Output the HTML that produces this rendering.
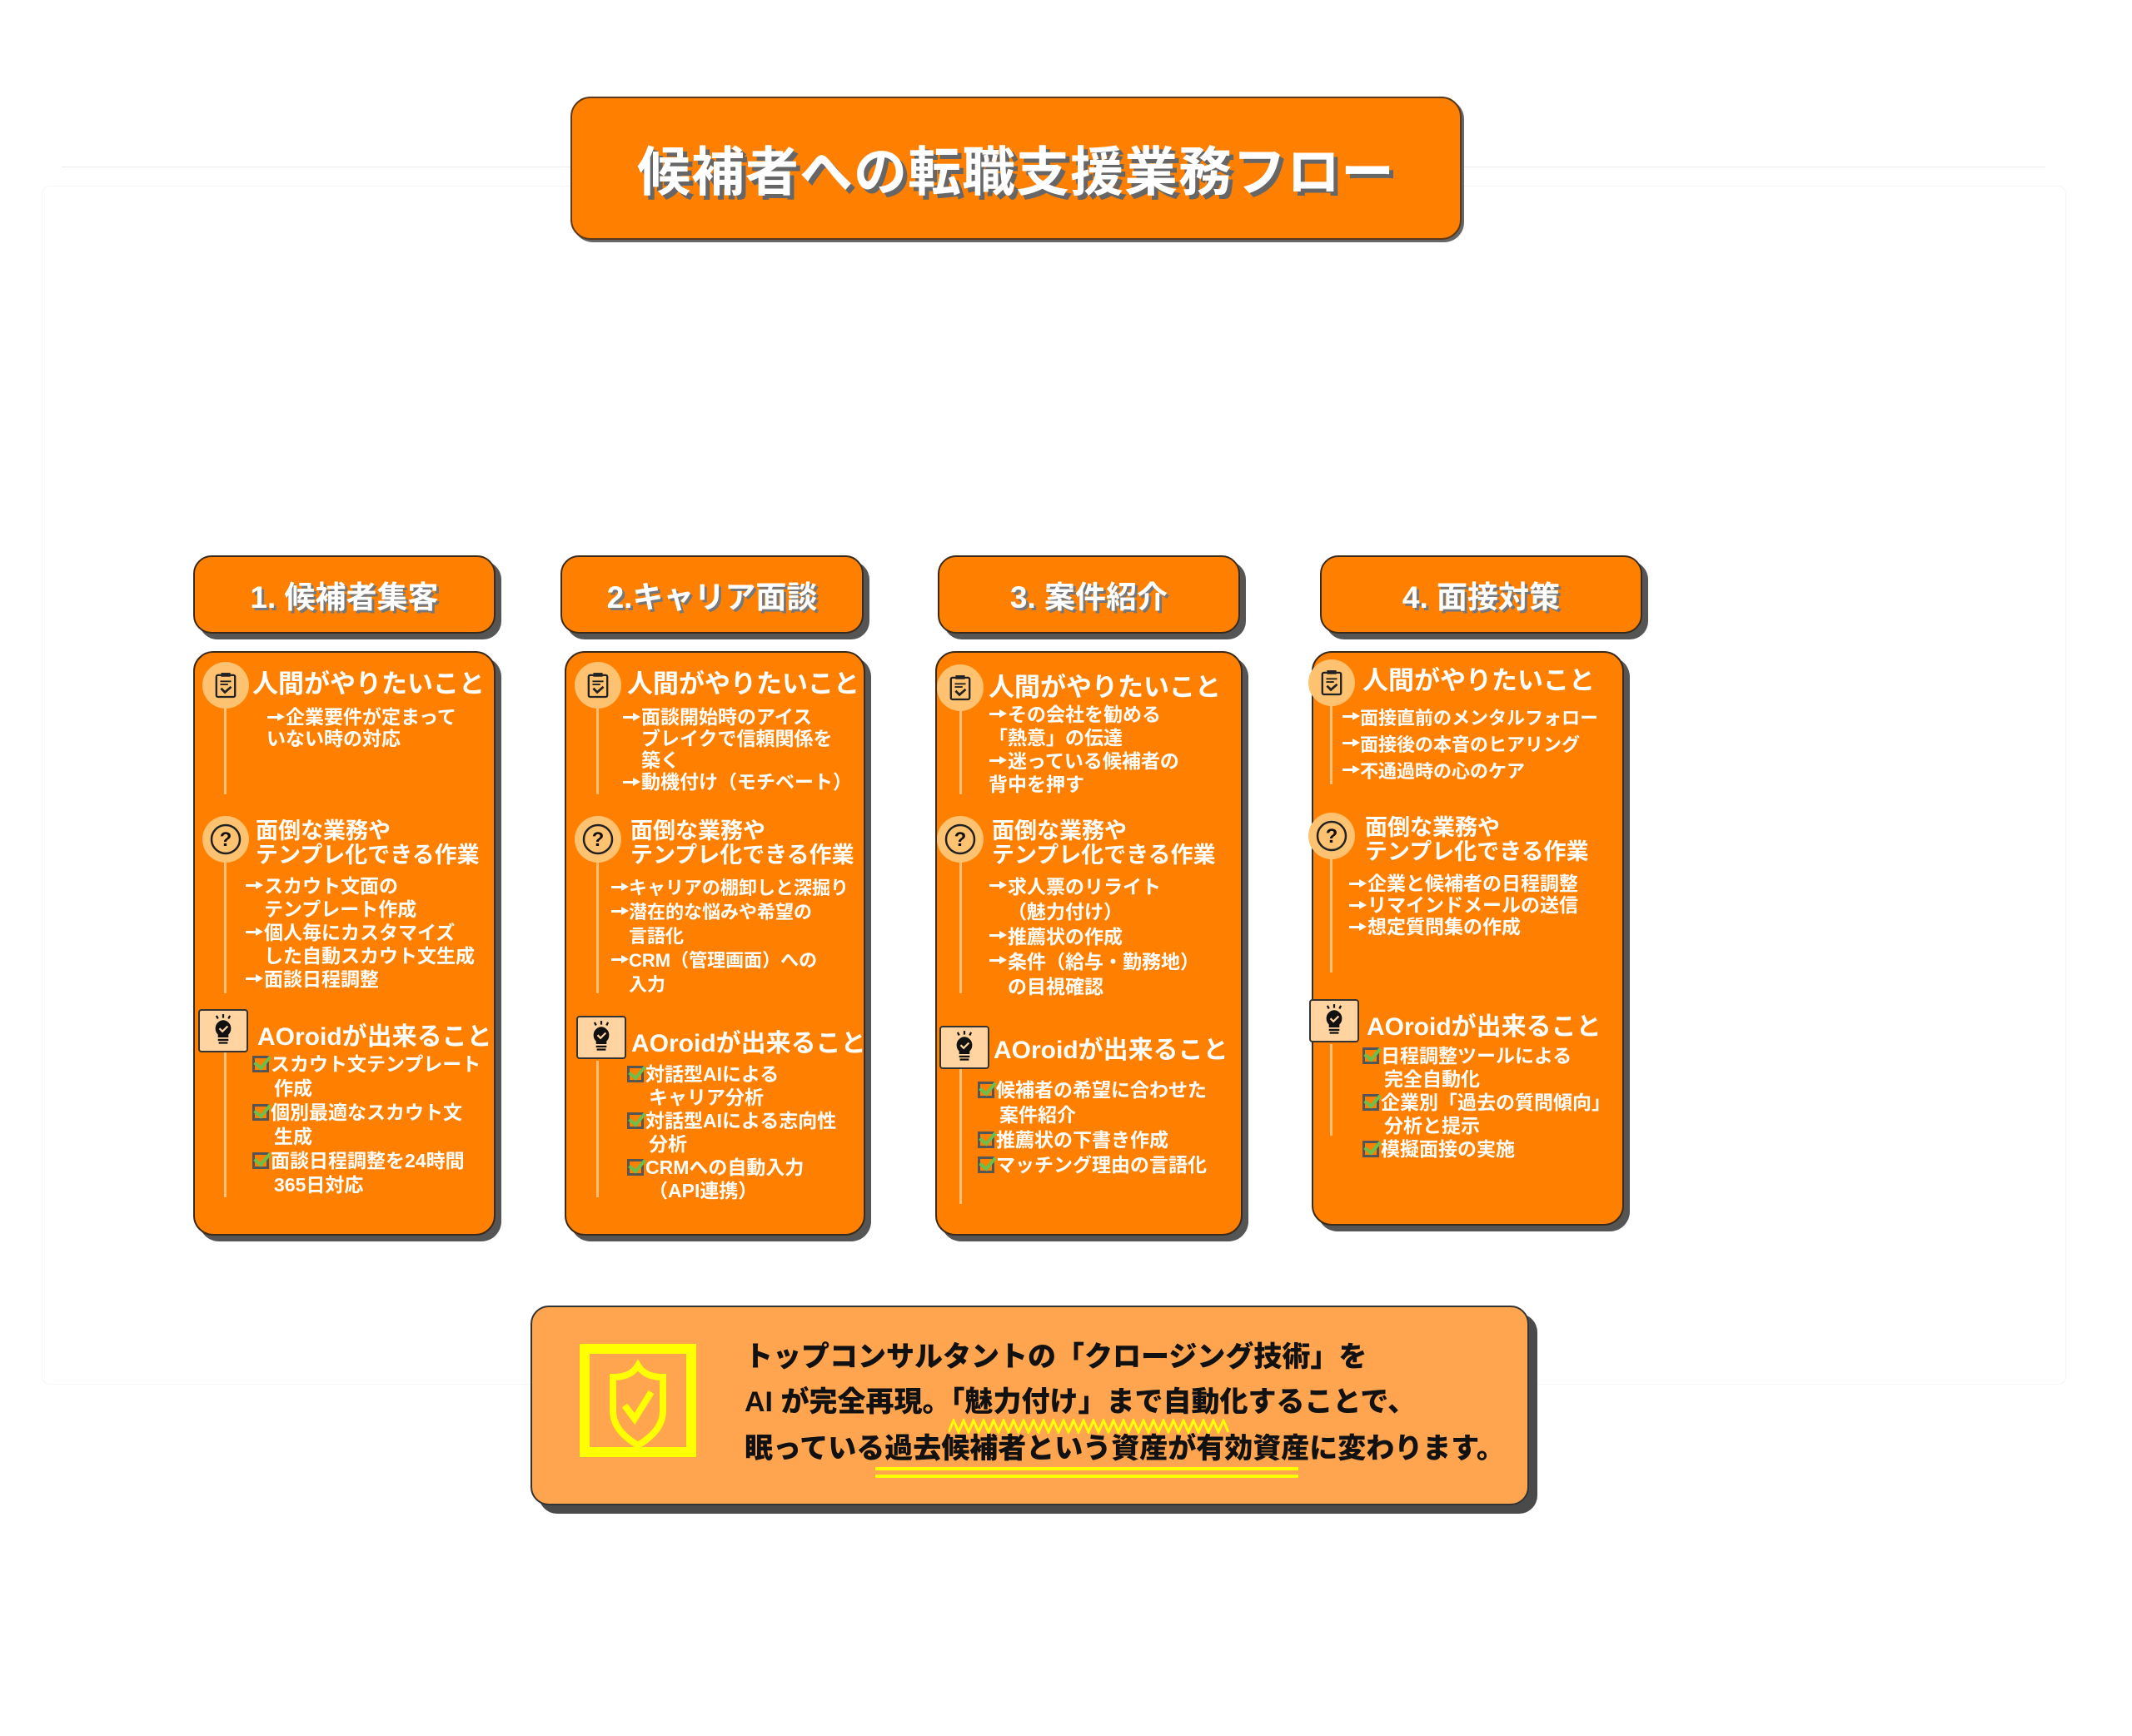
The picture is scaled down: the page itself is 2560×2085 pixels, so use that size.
<!DOCTYPE html>
<html><head><meta charset="utf-8">
<style>
*{margin:0;padding:0;box-sizing:border-box}
body{width:2560px;height:2085px;background:#fff;position:relative;overflow:hidden;font-family:"Liberation Sans","Noto Sans CJK JP",sans-serif;font-weight:bold;color:#fff}
.abs{position:absolute}
.title{left:685px;top:116px;width:1070px;height:172px;background:#FF8000;border:2px solid #5a3a1a;border-radius:24px;box-shadow:3px 3px 0 #666;display:flex;align-items:center;justify-content:center;font-size:64px;letter-spacing:1px;text-shadow:5px 5px 0 #666}
.hdr{position:absolute;top:667px;height:94px;background:#FF8000;border:2px solid #3a2a1a;border-radius:22px;box-shadow:7px 7px 0 #555;display:flex;align-items:center;justify-content:center;font-size:37px;text-shadow:3px 3px 0 #777}
.card{position:absolute;top:782px;background:#FF8000;border:2px solid #3a2a1a;border-radius:24px;box-shadow:7px 7px 0 #555}
.card>div{position:absolute;white-space:nowrap}
.h1{font-size:31px;line-height:36px}
.h2{font-size:27px;line-height:29px}
.it{font-size:23px;line-height:28px}
.in{padding-left:1em}
.ar{display:inline-block;width:1em;height:1em;position:relative;color:transparent;vertical-align:-3px;overflow:visible}
.ar:before{content:"";position:absolute;left:1px;top:9px;width:15px;height:3px;background:#fff}
.ar:after{content:"";position:absolute;left:13px;top:5px;border-left:9px solid #fff;border-top:5px solid transparent;border-bottom:5px solid transparent}
.vl{width:3px;background:#FFC07A}
.circ{width:56px;height:56px;border-radius:50%;background:#FFC270}
.bulb{width:60px;height:52px;background:#FFD4A0;border:2px solid #333;border-radius:4px}
.ck{display:inline-block;width:20px;height:20px;border:3px solid #555;position:relative;vertical-align:-2px;margin-right:2px}
.ck:after{content:"";position:absolute;left:3px;top:-6px;width:8px;height:15px;border-right:4px solid #6BC04A;border-bottom:4px solid #6BC04A;transform:rotate(40deg)}
.bot{left:637px;top:1568px;width:1199px;height:240px;background:#FFA54F;border:2px solid #333;border-radius:22px;box-shadow:10px 10px 0 #4a4a4a}
.bt{position:absolute;left:255px;color:#111;font-size:34px;line-height:40px;white-space:nowrap;font-weight:900}
</style></head><body>
<div class="abs" style="left:74px;top:200px;width:2382px;height:1px;background:#eee"></div>
<div class="abs" style="left:50px;top:223px;width:2431px;height:1440px;border:1px solid #f5f5f5;border-radius:10px"></div>

<div class="abs title">候補者への転職支援業務フロー</div>

<div class="hdr" style="left:232px;width:363px">1. 候補者集客</div>
<div class="hdr" style="left:673px;width:364px">2.キャリア面談</div>
<div class="hdr" style="left:1126px;width:363px">3. 案件紹介</div>
<div class="hdr" style="left:1585px;width:387px">4. 面接対策</div>

<svg width="0" height="0" style="position:absolute">
<defs>
<symbol id="clip" viewBox="0 0 30 34"><rect x="3" y="4" width="24" height="28" rx="2" fill="none" stroke="#222" stroke-width="2.5"/><rect x="9" y="1" width="12" height="5" fill="#222"/><line x1="8" y1="12" x2="22" y2="12" stroke="#222" stroke-width="2"/><line x1="8" y1="16" x2="18" y2="16" stroke="#222" stroke-width="2"/><path d="M9 21 L14 26 L22 19" fill="none" stroke="#222" stroke-width="3"/></symbol>
<symbol id="q" viewBox="0 0 40 40"><circle cx="20" cy="20" r="17" fill="none" stroke="#222" stroke-width="2.5"/><text x="20" y="28" text-anchor="middle" font-size="24" font-weight="bold" fill="#111" font-family="Liberation Sans">?</text></symbol>
<symbol id="bl" viewBox="0 0 40 44"><path d="M20 9 a11 11 0 0 1 7 19 v4 h-14 v-4 a11 11 0 0 1 7 -19z" fill="#111"/><rect x="13" y="34" width="14" height="2.5" fill="#111"/><rect x="14" y="38" width="12" height="2.5" fill="#111"/><path d="M15 20 l4 4 l7-7" fill="none" stroke="#FFD4A0" stroke-width="2.5"/><line x1="20" y1="1" x2="20" y2="6" stroke="#111" stroke-width="2.5"/><line x1="11" y1="3" x2="13" y2="7" stroke="#111" stroke-width="2.5"/><line x1="29" y1="3" x2="27" y2="7" stroke="#111" stroke-width="2.5"/></symbol>
</defs></svg>

<!-- Card 1 -->
<div class="card" style="left:232px;width:363px;height:702px">
 <div class="vl" style="left:35px;top:66px;height:104px"></div>
 <div class="vl" style="left:35px;top:252px;height:157px"></div>
 <div class="vl" style="left:35px;top:480px;height:174px"></div>
 <div class="circ" style="left:9px;top:11px"><svg width="56" height="56"><use href="#clip" x="14" y="12" width="28" height="32"/></svg></div>
 <div class="h1" style="left:69px;top:20px">人間がやりたいこと</div>
 <div class="it" style="left:86px;top:64px;line-height:26px"><span class="ar">→</span>企業要件が定まって<br>いない時の対応</div>
 <div class="circ" style="left:9px;top:196px"><svg width="56" height="56"><use href="#q" x="8" y="8" width="40" height="40"/></svg></div>
 <div class="h2" style="left:73px;top:200px">面倒な業務や<br>テンプレ化できる作業</div>
 <div class="it" style="left:60px;top:266px"><span class="ar">→</span>スカウト文面の<br><span class="in">テンプレート作成</span><br><span class="ar">→</span>個人毎にカスタマイズ<br><span class="in">した自動スカウト文生成</span><br><span class="ar">→</span>面談日程調整</div>
 <div class="bulb" style="left:4px;top:428px"><svg width="56" height="48"><use href="#bl" x="10" y="2" width="36" height="42"/></svg></div>
 <div class="h1" style="left:75px;top:444px;font-size:30px">AOroidが出来ること</div>
 <div class="it" style="left:69px;top:480px;line-height:29px"><span class="ck"></span>スカウト文テンプレート<br><span style="padding-left:26px">作成</span><br><span class="ck"></span>個別最適なスカウト文<br><span style="padding-left:26px">生成</span><br><span class="ck"></span>面談日程調整を24時間<br><span style="padding-left:26px">365日対応</span></div>
</div>

<!-- Card 2 -->
<div class="card" style="left:678px;width:361px;height:702px">
 <div class="vl" style="left:36px;top:66px;height:104px"></div>
 <div class="vl" style="left:36px;top:252px;height:157px"></div>
 <div class="vl" style="left:36px;top:490px;height:164px"></div>
 <div class="circ" style="left:10px;top:11px"><svg width="56" height="56"><use href="#clip" x="14" y="12" width="28" height="32"/></svg></div>
 <div class="h1" style="left:73px;top:20px">人間がやりたいこと</div>
 <div class="it" style="left:67px;top:64px;line-height:26px"><span class="ar">→</span>面談開始時のアイス<br><span class="in">ブレイクで信頼関係を</span><br><span class="in">築く</span><br><span class="ar">→</span>動機付け（モチベート）</div>
 <div class="circ" style="left:10px;top:196px"><svg width="56" height="56"><use href="#q" x="8" y="8" width="40" height="40"/></svg></div>
 <div class="h2" style="left:77px;top:200px">面倒な業務や<br>テンプレ化できる作業</div>
 <div class="it" style="left:53px;top:268px;line-height:29px;font-size:22px"><span class="ar">→</span>キャリアの棚卸しと深掘り<br><span class="ar">→</span>潜在的な悩みや希望の<br><span class="in">言語化</span><br><span class="ar">→</span>CRM（管理画面）への<br><span class="in">入力</span></div>
 <div class="bulb" style="left:12px;top:436px"><svg width="56" height="48"><use href="#bl" x="10" y="2" width="36" height="42"/></svg></div>
 <div class="h1" style="left:78px;top:452px;font-size:30px">AOroidが出来ること</div>
 <div class="it" style="left:73px;top:492px;line-height:28px"><span class="ck"></span>対話型AIによる<br><span style="padding-left:26px">キャリア分析</span><br><span class="ck"></span>対話型AIによる志向性<br><span style="padding-left:26px">分析</span><br><span class="ck"></span>CRMへの自動入力<br><span style="padding-left:26px">（API連携）</span></div>
</div>

<!-- Card 3 -->
<div class="card" style="left:1123px;width:369px;height:702px">
 <div class="vl" style="left:27px;top:68px;height:102px"></div>
 <div class="vl" style="left:27px;top:252px;height:157px"></div>
 <div class="vl" style="left:27px;top:498px;height:164px"></div>
 <div class="circ" style="left:0px;top:14px"><svg width="56" height="56"><use href="#clip" x="14" y="12" width="28" height="32"/></svg></div>
 <div class="h1" style="left:62px;top:24px">人間がやりたいこと</div>
 <div class="it" style="left:62px;top:60px;line-height:28px"><span class="ar">→</span>その会社を勧める<br>「熱意」の伝達<br><span class="ar">→</span>迷っている候補者の<br>背中を押す</div>
 <div class="circ" style="left:0px;top:196px"><svg width="56" height="56"><use href="#q" x="8" y="8" width="40" height="40"/></svg></div>
 <div class="h2" style="left:66px;top:200px">面倒な業務や<br>テンプレ化できる作業</div>
 <div class="it" style="left:62px;top:266px;line-height:30px"><span class="ar">→</span>求人票のリライト<br><span class="in">（魅力付け）</span><br><span class="ar">→</span>推薦状の作成<br><span class="ar">→</span>条件（給与・勤務地）<br><span class="in">の目視確認</span></div>
 <div class="bulb" style="left:3px;top:448px"><svg width="56" height="48"><use href="#bl" x="10" y="2" width="36" height="42"/></svg></div>
 <div class="h1" style="left:68px;top:460px;font-size:30px">AOroidが出来ること</div>
 <div class="it" style="left:49px;top:510px;line-height:30px"><span class="ck"></span>候補者の希望に合わせた<br><span style="padding-left:26px">案件紹介</span><br><span class="ck"></span>推薦状の下書き作成<br><span class="ck"></span>マッチング理由の言語化</div>
</div>

<!-- Card 4 -->
<div class="card" style="left:1575px;width:375px;height:690px">
 <div class="vl" style="left:20px;top:60px;height:98px"></div>
 <div class="vl" style="left:20px;top:246px;height:138px"></div>
 <div class="vl" style="left:20px;top:470px;height:110px"></div>
 <div class="circ" style="left:-6px;top:8px"><svg width="56" height="56"><use href="#clip" x="14" y="12" width="28" height="32"/></svg></div>
 <div class="h1" style="left:59px;top:16px">人間がやりたいこと</div>
 <div class="it" style="left:34px;top:63px;line-height:32px;font-size:22px"><span class="ar">→</span>面接直前のメンタルフォロー<br><span class="ar">→</span>面接後の本音のヒアリング<br><span class="ar">→</span>不通過時の心のケア</div>
 <div class="circ" style="left:-6px;top:192px"><svg width="56" height="56"><use href="#q" x="8" y="8" width="40" height="40"/></svg></div>
 <div class="h2" style="left:62px;top:196px">面倒な業務や<br>テンプレ化できる作業</div>
 <div class="it" style="left:42px;top:264px;line-height:26px"><span class="ar">→</span>企業と候補者の日程調整<br><span class="ar">→</span>リマインドメールの送信<br><span class="ar">→</span>想定質問集の作成</div>
 <div class="bulb" style="left:-5px;top:416px"><svg width="56" height="48"><use href="#bl" x="10" y="2" width="36" height="42"/></svg></div>
 <div class="h1" style="left:64px;top:432px;font-size:30px">AOroidが出来ること</div>
 <div class="it" style="left:59px;top:470px;line-height:28px"><span class="ck"></span>日程調整ツールによる<br><span style="padding-left:26px">完全自動化</span><br><span class="ck"></span>企業別「過去の質問傾向」<br><span style="padding-left:26px">分析と提示</span><br><span class="ck"></span>模擬面接の実施</div>
</div>

<!-- Bottom -->
<div class="abs bot">
 <svg class="abs" style="left:57px;top:44px" width="140" height="136" viewBox="0 0 140 136">
  <rect x="6" y="6" width="128" height="124" fill="none" stroke="#FFFF00" stroke-width="12"/>
  <path d="M70 26 C76 36 86 40 100 40 V80 C100 100 86 112 70 122 C54 112 40 100 40 80 V40 C54 40 64 36 70 26Z" fill="none" stroke="#FFFF00" stroke-width="8"/>
  <path d="M54 74 L66 90 L86 58" fill="none" stroke="#FFFF00" stroke-width="8"/>
 </svg>
 <div class="bt" style="top:40px">トップコンサルタントの「クロージング技術」を</div>
 <div class="bt" style="top:94px">AI が完全再現。「魅力付け」まで自動化することで、</div>
 <div class="bt" style="top:150px">眠っている過去候補者という資産が有効資産に変わります。</div>
 <svg class="abs" style="left:500px;top:134px" width="345" height="18" viewBox="0 0 345 18"><path d="M0 16 L6 2 L12 16 L18 2 L24 16 L30 2 L36 16 L42 2 L48 16 L54 2 L60 16 L66 2 L72 16 L78 2 L84 16 L90 2 L96 16 L102 2 L108 16 L114 2 L120 16 L126 2 L132 16 L138 2 L144 16 L150 2 L156 16 L162 2 L168 16 L174 2 L180 16 L186 2 L192 16 L198 2 L204 16 L210 2 L216 16 L222 2 L228 16 L234 2 L240 16 L246 2 L252 16 L258 2 L264 16 L270 2 L276 16 L282 2 L288 16 L294 2 L300 16 L306 2 L312 16 L318 2 L324 16 L330 2 L336 16" fill="none" stroke="#FFFF00" stroke-width="3"/></svg>
 <div class="abs" style="left:412px;top:192px;width:508px;height:4px;background:#FFFF00"></div>
 <div class="abs" style="left:412px;top:201px;width:508px;height:4px;background:#FFFF00"></div>
</div>
</body></html>
